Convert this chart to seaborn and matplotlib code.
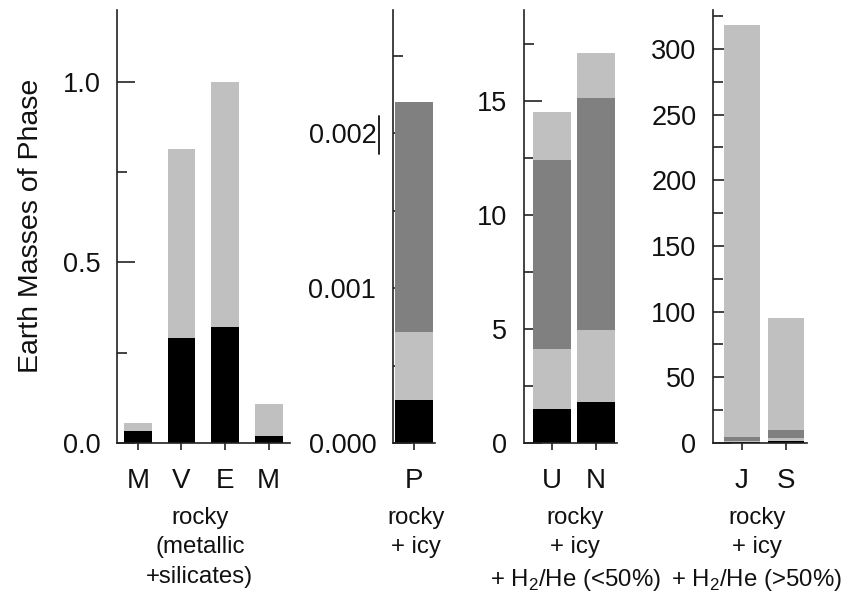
import numpy as np
import seaborn as sns
import matplotlib.pyplot as plt
from matplotlib.lines import Line2D

# Earth masses of each phase: metal, rock, ice, H2/He
terr_names = ["Mercury", "Venus", "Earth", "Mars"]
terr_labels = ["M", "V", "E", "M"]
terr_metal = [0.033, 0.29, 0.32, 0.02]
terr_rock = [0.022, 0.525, 0.68, 0.087]

pluto_names = ["Pluto"]
pluto_labels = ["P"]
pluto_metal = [0.00028]
pluto_rock = [0.00044]
pluto_ice = [0.00148]

icy_names = ["Uranus", "Neptune"]
icy_labels = ["U", "N"]
icy_metal = [1.5, 1.8]
icy_rock = [2.6, 3.15]
icy_ice = [8.3, 10.15]
icy_gas = [2.1, 2.0]

gas_names = ["Jupiter", "Saturn"]
gas_labels = ["J", "S"]
gas_metal = [0.5, 1.5]
gas_rock = [1.0, 2.3]
gas_ice = [3.1, 6.2]
gas_gas = [313.4, 85.0]

c_metal = "#000000"
c_rock = "#c0c0c0"
c_ice = "#808080"
c_gas = "#c0c0c0"

sns.set_theme(style="ticks")
plt.rcParams['font.family'] = ['Liberation Sans', 'DejaVu Sans']
plt.rcParams['mathtext.fontset'] = 'custom'
plt.rcParams['mathtext.rm'] = 'Liberation Sans'
plt.rcParams['text.color'] = '#111111'

fig = plt.figure(figsize=(8.44, 5.94), dpi=100)
H = 594.0
W = 844.0
bot = (H - 443) / H
hgt = 433.5 / H


def stack(ax, names, layers, colors, width):
    cum = np.cumsum(np.array(layers), axis=0)
    for i in range(len(layers) - 1, -1, -1):
        sns.barplot(x=names, y=cum[i], order=names, color=colors[i], width=width,
                    saturation=1, errorbar=None, linewidth=0, ax=ax)


def style(ax, labels, xlim, ylim, major, minor, fmt, sub, subx):
    ax.set_xlim(*xlim)
    ax.set_ylim(*ylim)
    ax.set_xticks(range(len(labels)), labels)
    ax.set_yticks(major, [fmt.format(v) for v in major])
    ax.set_yticks(minor, minor=True)
    ax.set_axisbelow(True)
    for s in ["top", "right"]:
        ax.spines[s].set_visible(False)
    for s in ["left", "bottom"]:
        ax.spines[s].set_color("#222222")
        ax.spines[s].set_linewidth(1.2)
    ax.tick_params(axis="y", which="major", direction="in", length=13, width=1.2,
                   pad=12, labelsize=19.5, color="#222222", labelcolor="#111111")
    ax.tick_params(axis="y", which="minor", direction="in", length=7, width=1.2,
                   color="#222222")
    ax.tick_params(axis="x", direction="out", length=5, width=1.2, pad=13,
                   labelsize=20, color="#222222", labelcolor="#111111")
    ax.set_xlabel("")
    ax.set_ylabel("")
    ax.text(subx, -0.147, sub, transform=ax.get_xaxis_transform(), ha="center",
            va="top", fontsize=17.3, linespacing=1.45, color="#111111")


ax1 = fig.add_axes([117 / W, bot, 173 / W, hgt])
stack(ax1, terr_names, [terr_metal, terr_rock], [c_metal, c_rock], 0.64)
style(ax1, terr_labels, (-0.48, 3.49), (0, 1.2), [0, 0.5, 1.0], [0.25, 0.75],
      "{:.1f}", "rocky\n(metallic\n+silicates)", 1.42)
ax1.set_ylabel("Earth Masses of Phase", fontsize=20.5, color="#111111")
ax1.yaxis.set_label_coords(-0.42, 0.5)

ax2 = fig.add_axes([393 / W, bot, 42 / W, hgt])
stack(ax2, pluto_names, [pluto_metal, pluto_rock, pluto_ice],
      [c_metal, c_rock, c_ice], 0.85)
style(ax2, pluto_labels, (-0.48, 0.48), (0, 0.0028), [0, 0.001, 0.002],
      [0.0005, 0.0015, 0.0025], "{:.3f}", "rocky\n+ icy", 0.05)

ax3 = fig.add_axes([524 / W, bot, 93 / W, hgt])
stack(ax3, icy_names, [icy_metal, icy_rock, icy_ice, icy_gas],
      [c_metal, c_rock, c_ice, c_gas], 0.86)
style(ax3, icy_labels, (-0.64, 1.48), (0, 19), [0, 5, 10, 15],
      [2.5, 7.5, 12.5, 17.5], "{:.0f}",
      "rocky\n+ icy\n+ H$_2$/He (<50%)", 0.53)

ax4 = fig.add_axes([713 / W, bot, 94 / W, hgt])
stack(ax4, gas_names, [gas_metal, gas_rock, gas_ice, gas_gas],
      [c_metal, c_rock, c_ice, c_gas], 0.82)
style(ax4, gas_labels, (-0.66, 1.48), (0, 330), list(range(0, 301, 50)),
      list(range(25, 326, 50)), "{:.0f}",
      "rocky\n+ icy\n+ H$_2$/He (>50%)", 0.34)

# stray cursor mark next to the 0.002 label
fig.add_artist(Line2D([379 / W, 379 / W], [(H - 116) / H, (H - 154) / H],
                      color="#111111", lw=1.3, transform=fig.transFigure))

fig.savefig("out.png", dpi=100)
